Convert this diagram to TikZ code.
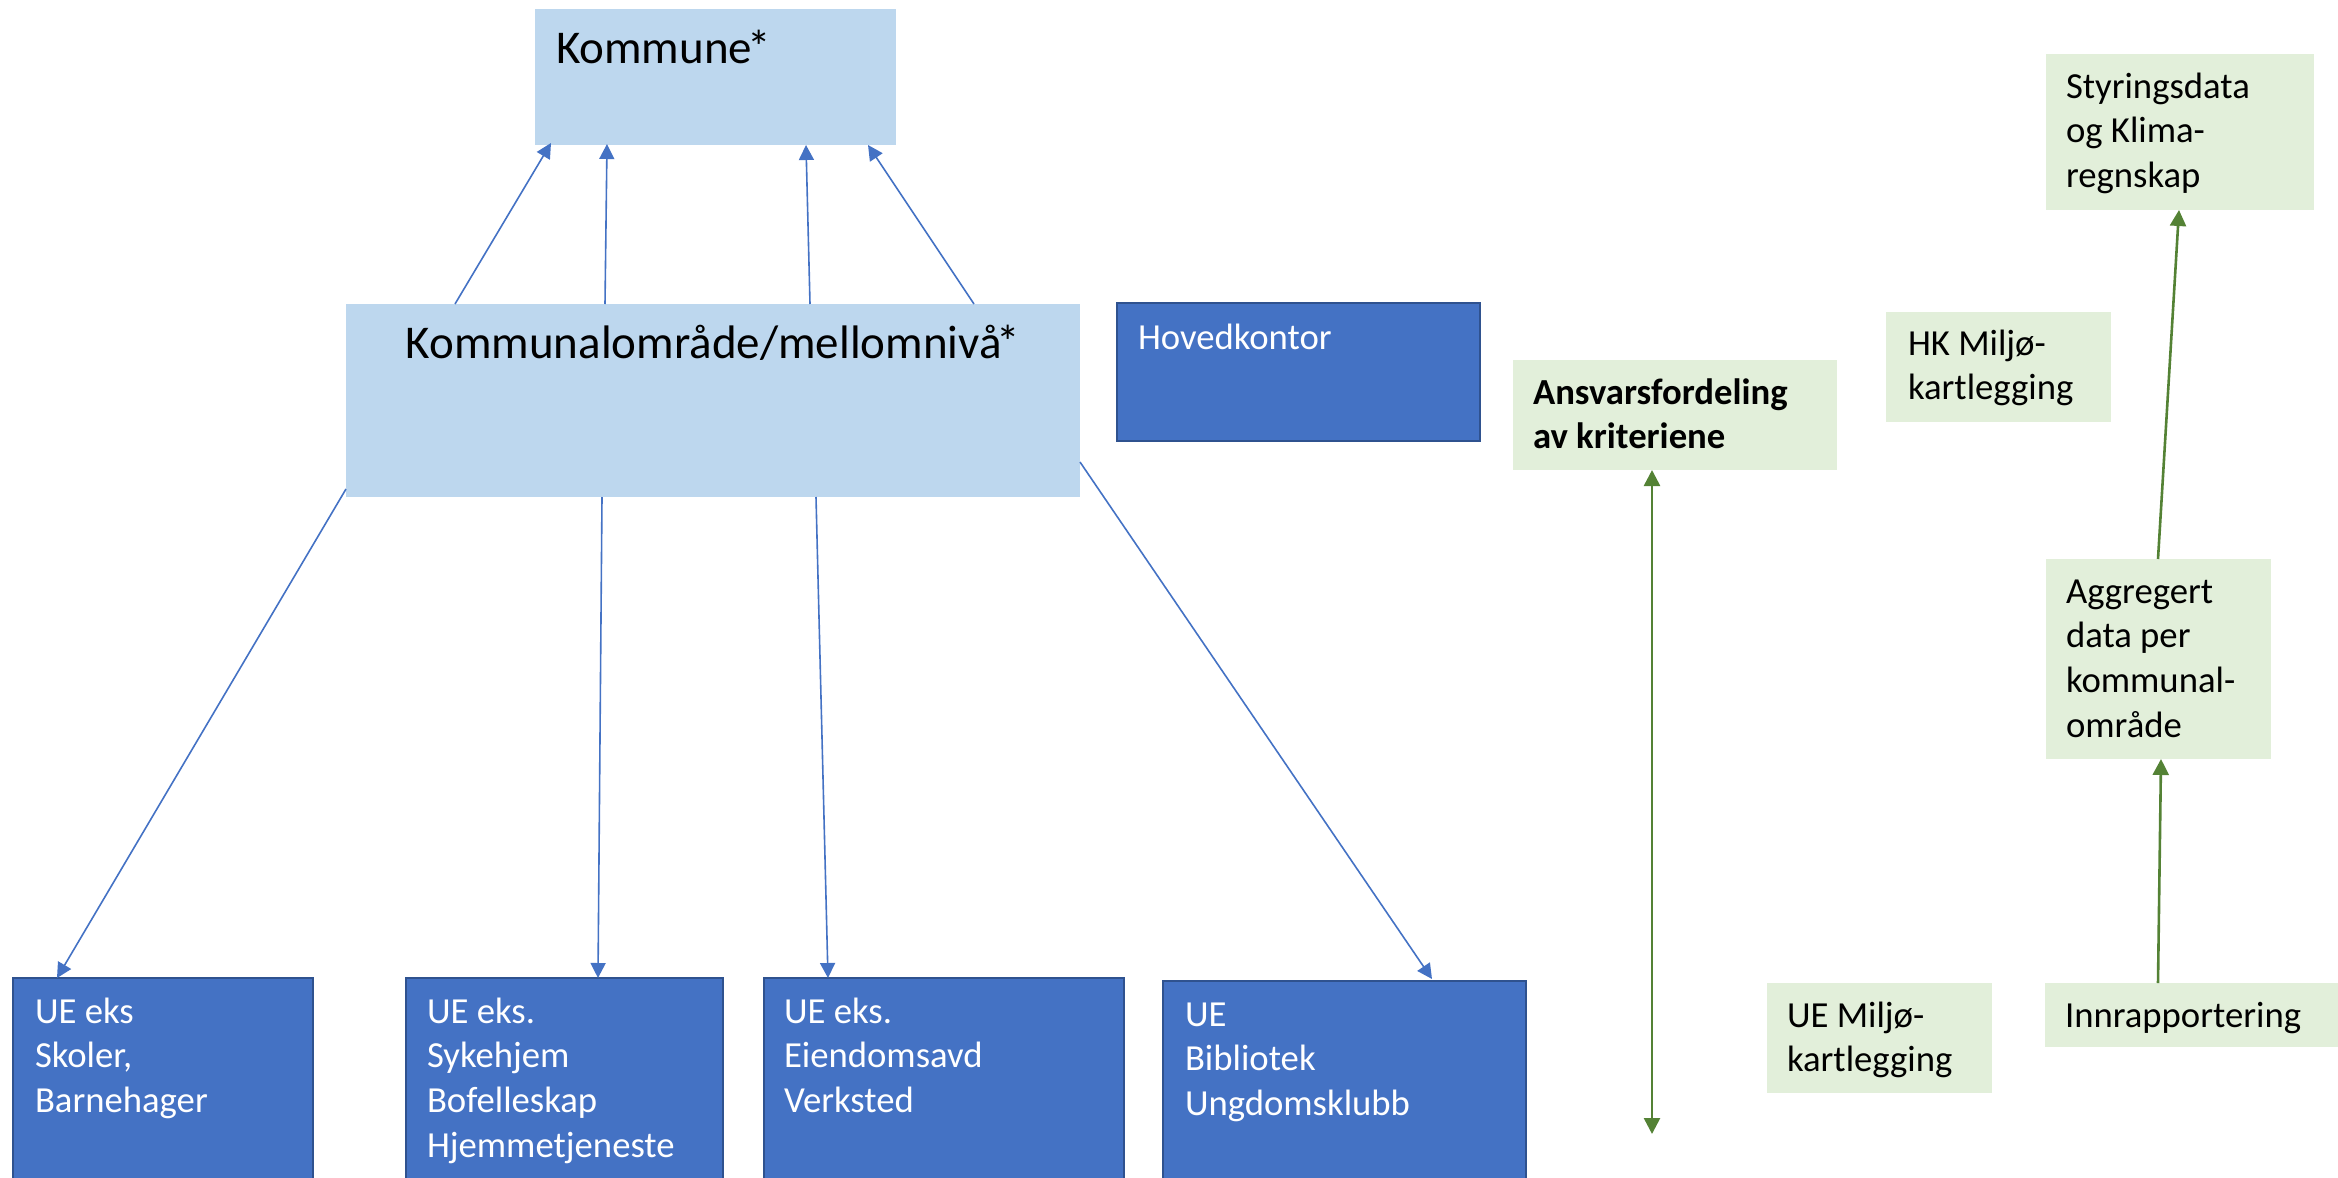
\documentclass[tikz,border=0pt]{standalone}
\usepackage{fontspec}
\setmainfont{Carlito}
\usetikzlibrary{calc,arrows.meta}
\definecolor{lblue}{HTML}{BDD7EE}
\definecolor{dblue}{HTML}{4472C4}
\definecolor{bblue}{HTML}{2F528F}
\definecolor{lgreen}{HTML}{E2EFDA}
\definecolor{dgreen}{HTML}{548235}
\newcommand\smf{\fontsize{36.7pt}{44.8pt}\selectfont}
\newcommand\bgf{\fontsize{47pt}{57.3pt}\selectfont}
% width, height, left inset, first-baseline offset, text
\newcommand\bxt[5]{\parbox[t][#2][t]{#1}{\raggedright\leftskip=#3\relax\rule{0pt}{#4}#5}}
\tikzset{
  lbox/.style={fill=lblue, inner sep=0pt, outer sep=0pt, anchor=north west},
  dbox/.style={fill=dblue, draw=bblue, line width=2pt, inner sep=0pt, outer sep=0pt, anchor=north west, text=white},
  gbox/.style={fill=lgreen, inner sep=0pt, outer sep=0pt, anchor=north west},
  barrow/.style={draw=dblue, line width=1.6pt, -{Triangle[length=15pt,width=15pt]}},
  garrow/.style={draw=dgreen, line width=2.6pt, -{Triangle[length=16pt,width=16pt]}},
  gdarrow/.style={draw=dgreen, line width=2.6pt, {Triangle[length=16pt,width=16pt]}-{Triangle[length=16pt,width=16pt]}},
}
\begin{document}
\begin{tikzpicture}[x=1pt,y=-1pt]
\useasboundingbox (0,0) rectangle (2338,1178);

\node[lbox] (kom) at (535,9) {\bxt{361pt}{136pt}{21pt}{54pt}{\bgf Kommune\kern-5pt*}};
\node[lbox] (ko) at (346,304) {\parbox[t][193pt][t]{734pt}{\centering\rule{0pt}{54pt}\bgf Kommunalområde/mellomnivå\kern-5pt*}};
\node[dbox] (hk) at (1117,303) {\bxt{363pt}{138pt}{21pt}{46pt}{\smf Hovedkontor}};

\node[dbox] (b1) at (13,978) {\bxt{300pt}{230pt}{22pt}{45pt}{\smf UE eks\\Skoler,\\Barnehager}};
\node[dbox] (b2) at (406,978) {\bxt{317pt}{230pt}{21pt}{45pt}{\smf UE eks.\\Sykehjem\\Bofelleskap\\Hjemmetjeneste}};
\node[dbox] (b3) at (764,978) {\bxt{360pt}{230pt}{20pt}{45pt}{\smf UE eks.\\Eiendomsavd\\Verksted}};
\node[dbox] (b4) at (1163,981) {\bxt{363pt}{230pt}{22pt}{45pt}{\smf UE\\Bibliotek\\Ungdomsklubb}};

\node[gbox] (ans) at (1513,360) {\bxt{324pt}{110pt}{20pt}{44pt}{\smf\bfseries Ansvarsfordeling\\av kriteriene}};
\node[gbox] (hkm) at (1886,312) {\bxt{225pt}{110pt}{22pt}{43pt}{\smf HK Miljø-\\kartlegging}};
\node[gbox] (styr) at (2046,54) {\bxt{268pt}{156pt}{20pt}{44pt}{\smf Styringsdata\\og Klima-\\regnskap}};
\node[gbox] (aggr) at (2046,559) {\bxt{225pt}{200pt}{20pt}{44pt}{\smf Aggregert\\data per\\kommunal-\\område}};
\node[gbox] (uem) at (1767,983) {\bxt{225pt}{110pt}{20pt}{44pt}{\smf UE Miljø-\\kartlegging}};
\node[gbox] (innr) at (2045,983) {\bxt{310pt}{64pt}{20pt}{44pt}{\smf Innrapportering}};

\coordinate (ansend) at (1652,1134);

% up arrows to Kommune
\draw[barrow] ($(ko.north west)+(109,0)$) -- ($(kom.south west)+(16,-2)$);
\draw[barrow] ($(ko.north west)+(259,0)$) -- ($(kom.south west)+(72,-1)$);
\draw[barrow] ($(ko.north west)+(464,0)$) -- ($(kom.south west)+(271,0)$);
\draw[barrow] ($(ko.north west)+(628,0)$) -- ($(kom.south west)+(333,0)$);

% down arrows to units
\draw[barrow] ($(ko.north west)+(0,185)$) -- ($(b1.north west)+(44,0)$);
\draw[barrow] ($(ko.south west)+(256,0)$) -- ($(b2.north west)+(192,0)$);
\draw[barrow] ($(ko.south west)+(470,0)$) -- ($(b3.north west)+(64,0)$);
\draw[barrow] ($(ko.north east)+(0,158)$) -- ($(b4.north west)+(269,-2)$);

% green arrows
\draw[gdarrow] ($(ans.south west)+(139,0)$) -- (ansend);
\draw[garrow] ($(innr.north west)+(113,0)$) -- ($(aggr.south west)+(115,0)$);
\draw[garrow] ($(aggr.north west)+(112,0)$) -- ($(styr.south west)+(133,0)$);
\end{tikzpicture}
\end{document}
